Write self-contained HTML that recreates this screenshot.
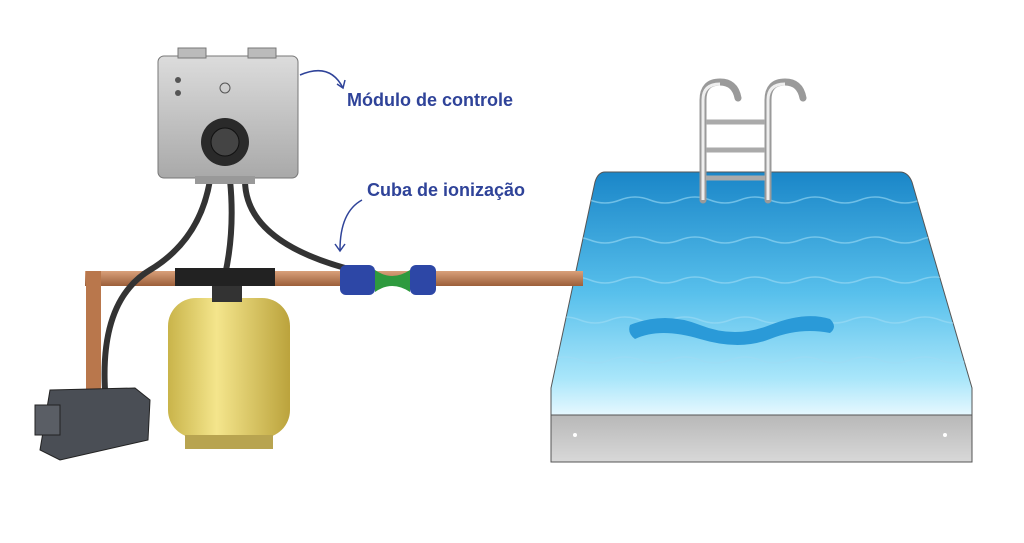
<!DOCTYPE html>
<html><head><meta charset="utf-8"><style>
html,body{margin:0;padding:0;background:#fff;width:1024px;height:543px;overflow:hidden}
svg{display:block}
text{font-family:"Liberation Sans",sans-serif;font-weight:bold;fill:#2f4399}
</style></head><body>
<svg width="1024" height="543" viewBox="0 0 1024 543">
<defs>
<linearGradient id="w" x1="0" y1="0" x2="0" y2="1">
<stop offset="0" stop-color="#1a86c8"/><stop offset="0.5" stop-color="#58c0ec"/><stop offset="0.85" stop-color="#a9e6fa"/><stop offset="1" stop-color="#e6f8ff"/></linearGradient>
<linearGradient id="f" x1="0" y1="0" x2="0" y2="1"><stop offset="0" stop-color="#b8b8b8"/><stop offset="1" stop-color="#d8d8d8"/></linearGradient>
<linearGradient id="y" x1="0" y1="0" x2="1" y2="0"><stop offset="0" stop-color="#c9b44a"/><stop offset="0.4" stop-color="#f4e58c"/><stop offset="1" stop-color="#bba33c"/></linearGradient>
<linearGradient id="c" x1="0" y1="0" x2="0" y2="1"><stop offset="0" stop-color="#d9a07a"/><stop offset="1" stop-color="#9c5f3a"/></linearGradient>
<linearGradient id="b" x1="0" y1="0" x2="0" y2="1"><stop offset="0" stop-color="#dcdcdc"/><stop offset="1" stop-color="#a9a9a9"/></linearGradient>
<clipPath id="pc"><path d="M605 172 L900 172 Q908 172 912 182 L972 388 L972 415 L551 415 L551 388 L595 182 Q598 172 605 172Z"/></clipPath>
</defs>
<!-- pool -->
<path d="M605 172 L900 172 Q908 172 912 182 L972 388 L972 415 L551 415 L551 388 L595 182 Q598 172 605 172Z" fill="url(#w)" stroke="#555" stroke-width="1"/>
<g stroke="#9fdcf5" stroke-width="1.5" fill="none" opacity="0.6" clip-path="url(#pc)">
<path d="M560 200 q15 -6 30 0 t30 0 t30 0 t30 0 t30 0 t30 0 t30 0 t30 0 t30 0 t30 0 t30 0 t30 0 t30 0 t30 0 t30 0"/>
<path d="M560 240 q15 -6 30 0 t30 0 t30 0 t30 0 t30 0 t30 0 t30 0 t30 0 t30 0 t30 0 t30 0 t30 0 t30 0 t30 0 t30 0"/>
<path d="M560 280 q15 -6 30 0 t30 0 t30 0 t30 0 t30 0 t30 0 t30 0 t30 0 t30 0 t30 0 t30 0 t30 0 t30 0 t30 0 t30 0"/>
<path d="M550 320 q15 -6 30 0 t30 0 t30 0 t30 0 t30 0 t30 0 t30 0 t30 0 t30 0 t30 0 t30 0 t30 0 t30 0 t30 0 t30 0"/>
<path d="M550 360 q15 -6 30 0 t30 0 t30 0 t30 0 t30 0 t30 0 t30 0 t30 0 t30 0 t30 0 t30 0 t30 0 t30 0 t30 0 t30 0"/>
</g>
<path d="M630 325 q35 -14 70 0 t70 0 t60 -6 q8 8 0 14 q-30 -6 -60 6 t-70 0 t-65 0 q-8 -6 -5 -14z" fill="#2a9ad8"/>
<rect x="551" y="415" width="421" height="47" fill="url(#f)" stroke="#555"/>
<circle cx="575" cy="435" r="2" fill="#fff"/><circle cx="945" cy="435" r="2" fill="#fff"/>
<!-- ladder -->
<g fill="none" stroke="#9a9a9a" stroke-width="7" stroke-linecap="round">
<path d="M703 200 V100 Q703 82 720 82 Q735 82 738 98"/>
<path d="M768 200 V100 Q768 82 785 82 Q800 82 803 98"/>
</g>
<g fill="none" stroke="#eee" stroke-width="3"><path d="M703 200 V100 Q703 84 720 84"/><path d="M768 200 V100 Q768 84 785 84"/></g>
<g stroke="#aaa" stroke-width="5"><line x1="706" y1="122" x2="765" y2="122"/><line x1="706" y1="150" x2="765" y2="150"/><line x1="706" y1="178" x2="765" y2="178"/></g>
<!-- pipes -->
<rect x="85" y="271" width="498" height="15" fill="url(#c)"/>
<rect x="86" y="271" width="15" height="130" fill="#b9774c"/>
<!-- hoses -->
<g fill="none" stroke="#333" stroke-width="6">
<path d="M210 180 Q200 240 150 270 Q100 300 105 390"/>
<path d="M230 180 Q235 230 225 275"/>
<path d="M245 180 Q245 240 345 268"/>
</g>
<!-- pump -->
<path d="M50 390 L135 388 L150 400 L148 440 L60 460 L40 450 Z" fill="#4a4e55" stroke="#222"/>
<rect x="35" y="405" width="25" height="30" fill="#5a5e65" stroke="#222"/>
<!-- filter -->
<rect x="168" y="298" width="122" height="140" rx="28" fill="url(#y)"/>
<rect x="185" y="435" width="88" height="14" fill="#b8a450"/>
<rect x="212" y="282" width="30" height="20" fill="#333"/>
<rect x="175" y="268" width="100" height="18" fill="#222"/>
<!-- fitting -->
<rect x="340" y="265" width="35" height="30" rx="6" fill="#2d47a6"/>
<path d="M375 270 Q392 282 410 270 L410 292 Q392 280 375 292Z" fill="#2e9a3e"/>
<rect x="410" y="265" width="26" height="30" rx="6" fill="#2d47a6"/>
<!-- control box -->
<rect x="158" y="56" width="140" height="122" rx="6" fill="url(#b)" stroke="#777"/>
<rect x="178" y="48" width="28" height="10" fill="#bbb" stroke="#777"/>
<rect x="248" y="48" width="28" height="10" fill="#bbb" stroke="#777"/>
<circle cx="178" cy="80" r="3" fill="#555"/><circle cx="178" cy="93" r="3" fill="#555"/>
<circle cx="225" cy="88" r="5" fill="none" stroke="#555"/>
<circle cx="225" cy="142" r="24" fill="#2a2a2a"/><circle cx="225" cy="142" r="14" fill="#444" stroke="#111"/>
<rect x="195" y="176" width="60" height="8" fill="#999"/>
<!-- arrows -->
<g fill="none" stroke="#2f4399" stroke-width="1.5">
<path d="M300 75 Q330 62 343 88"/><path d="M337 84 L343 88 L345 80"/>
<path d="M362 200 Q340 212 340 250"/><path d="M335 244 L340 251 L345 244"/>
</g>
<text x="347" y="106" font-size="18">Módulo de controle</text>
<text x="367" y="196" font-size="18">Cuba de ionização</text>
</svg>
</body></html>
